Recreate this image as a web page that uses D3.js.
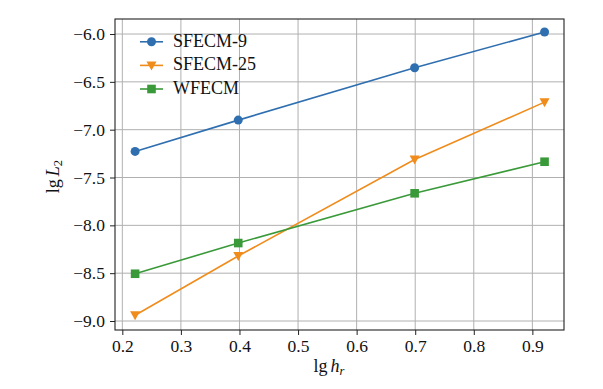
<!DOCTYPE html>
<html><head><meta charset="utf-8">
<script src="https://cdn.jsdelivr.net/npm/d3@7"></script>
<style>body{margin:0;background:#fff}svg{display:block}</style>
</head><body>
<script>
const xValues = [0.2218, 0.3979, 0.6990, 0.9208];
const seriesNames = ["SFECM-9", "SFECM-25", "WFECM"];
const sfecm9 = [-7.227, -6.900, -6.353, -5.979];
const sfecm25 = [-8.940, -8.320, -7.312, -6.712];
const wfecm = [-8.506, -8.185, -7.665, -7.335];
const xTicks = [0.2, 0.3, 0.4, 0.5, 0.6, 0.7, 0.8, 0.9];
const yTicks = [-9.0, -8.5, -8.0, -7.5, -7.0, -6.5, -6.0];

const W = 603, H = 389;
const m = {l: 115, r: 39, t: 19, b: 59};
const svg = d3.select("body").append("svg").attr("width", W).attr("height", H)
  .attr("font-family", "Liberation Serif");
const x = d3.scaleLinear().domain([0.1875, 0.954]).range([m.l, W - m.r]);
const y = d3.scaleLinear().domain([-9.094, -5.843]).range([H - m.b, m.t]);
const fs = 18;

// grid
const g = svg.append("g");
g.selectAll(".gx").data(xTicks).join("line")
  .attr("x1", d => x(d)).attr("x2", d => x(d)).attr("y1", m.t).attr("y2", H - m.b)
  .attr("stroke", "#b0b0b0").attr("stroke-width", 1);
g.selectAll(".gy").data(yTicks).join("line")
  .attr("y1", d => y(d)).attr("y2", d => y(d)).attr("x1", m.l).attr("x2", W - m.r)
  .attr("stroke", "#b0b0b0").attr("stroke-width", 1);

// axes
const fmt = d => d3.format(".1f")(d).replace("-", "\u2212");
const xAxis = svg.append("g").attr("transform", `translate(0,${H - m.b})`)
  .call(d3.axisBottom(x).tickValues(xTicks).tickFormat(fmt).tickSize(5).tickPadding(5));
const yAxis = svg.append("g").attr("transform", `translate(${m.l},0)`)
  .call(d3.axisLeft(y).tickValues(yTicks).tickFormat(fmt).tickSize(5).tickPadding(5));
[xAxis, yAxis].forEach(a => {
  a.select(".domain").remove();
  a.attr("font-family", "Liberation Serif").attr("font-size", 17.5);
  a.selectAll("text").attr("fill", "#111");
  a.selectAll("line").attr("stroke", "#222").attr("stroke-width", 1);
});
svg.append("rect").attr("x", m.l).attr("y", m.t).attr("width", W - m.r - m.l).attr("height", H - m.b - m.t)
  .attr("fill", "none").attr("stroke", "#222").attr("stroke-width", 1.1);

// series
const colors = ["#2f6fb0", "#f08c1c", "#3a9a3a"];
const data = [sfecm9, sfecm25, wfecm];
const line = d3.line().x((d, i) => x(xValues[i])).y(d => y(d));
function marker(sel, k) {
  if (k === 0) sel.append("circle").attr("r", 4.5).attr("fill", colors[k]);
  else if (k === 1) sel.append("path").attr("d", "M-5,-4L5,-4L0,5Z").attr("fill", colors[k]);
  else sel.append("rect").attr("x", -4.3).attr("y", -4.3).attr("width", 8.6).attr("height", 8.6).attr("fill", colors[k]);
}
data.forEach((vals, k) => {
  svg.append("path").datum(vals).attr("d", line).attr("fill", "none")
    .attr("stroke", colors[k]).attr("stroke-width", 1.6);
  vals.forEach((v, i) => {
    const gm = svg.append("g").attr("transform", `translate(${x(xValues[i])},${y(v)})`);
    marker(gm, k);
  });
});

// legend
const leg = svg.append("g");
seriesNames.forEach((n, k) => {
  const yy = 41.8 + k * 23.6;
  leg.append("line").attr("x1", 140).attr("x2", 163).attr("y1", yy).attr("y2", yy)
    .attr("stroke", colors[k]).attr("stroke-width", 1.6);
  marker(leg.append("g").attr("transform", `translate(151.5,${yy})`), k);
  leg.append("text").attr("x", 173).attr("y", yy + 4.7).text(n)
    .attr("font-size", fs).attr("fill", "#111");
});

// axis labels
const xl = svg.append("text").attr("x", 329).attr("y", 371.5).attr("text-anchor", "middle")
  .attr("font-size", fs).attr("fill", "#111");
xl.append("tspan").text("lg");
xl.append("tspan").attr("font-style", "italic").attr("dx", 3).text("h");
xl.append("tspan").attr("font-style", "italic").attr("font-size", 12.5).attr("dy", 3).text("r");

const yl = svg.append("text").attr("transform", `translate(58.5,176.7) rotate(-90)`)
  .attr("text-anchor", "middle").attr("font-size", fs).attr("fill", "#111");
yl.append("tspan").text("lg");
yl.append("tspan").attr("font-style", "italic").attr("dx", 3).text("L");
yl.append("tspan").attr("font-size", 12.5).attr("dy", 3).text("2");
</script>
</body></html>
